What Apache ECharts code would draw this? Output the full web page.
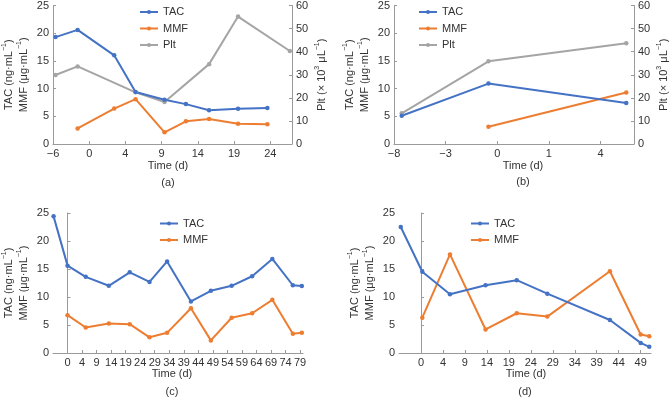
<!DOCTYPE html>
<html>
<head>
<meta charset="utf-8">
<script src="https://cdn.jsdelivr.net/npm/echarts@6/dist/echarts.min.js"></script>
<style>
  html, body { margin: 0; padding: 0; background: #fff; }
  #chart { width: 670px; height: 397px; }
</style>
</head>
<body>
<div id="chart"></div>
<script>
// tick labels (evenly spaced on the axis, one per unit)
const aTicks = ['−6', '0', '4', '9', '14', '19', '24']
const bTicks = ['−8', '−3', '0', '1', '4']
const cTicks = ['0', '4', '9', '14', '19', '24', '29', '34', '39', '44', '49', '54', '59', '64', '69', '74', '79']
const dTicks = ['0', '4', '9', '14', '19', '24', '29', '34', '39', '44', '49']

// panel (a)
const aTacX = [0.07, 0.68, 1.69, 2.28, 3.08, 3.67, 4.31, 5.11, 5.92]
const aTac = [19.3, 20.6, 16.0, 9.4, 8.0, 7.2, 6.1, 6.35, 6.5]
const aMmfX = [0.68, 1.69, 2.28, 3.08, 3.67, 4.31, 5.11, 5.92]
const aMmf = [2.8, 6.4, 8.1, 2.1, 4.1, 4.5, 3.65, 3.55]
const aPltX = [0.07, 0.68, 2.28, 3.08, 4.31, 5.11, 6.54]
const aPlt = [29.9, 33.6, 22.4, 18.2, 34.6, 55.2, 40.3]

// panel (b)
const bTacX = [0.15, 1.83, 4.5]
const bTac = [5.1, 10.9, 7.4]
const bMmfX = [1.83, 4.5]
const bMmf = [3.1, 9.3]
const bPltX = [0.15, 1.83, 4.5]
const bPlt = [13.3, 35.8, 43.6]

// panel (c)
const cTacX = [-0.96, 0, 1.25, 2.84, 4.28, 5.64, 6.85, 8.49, 9.86, 11.29, 12.7, 14.09, 15.5, 16.12]
const cTac = [24.4, 15.6, 13.6, 12.0, 14.4, 12.7, 16.35, 9.2, 11.1, 12.0, 13.7, 16.8, 12.1, 11.95]
const cMmfX = [0, 1.25, 2.84, 4.28, 5.64, 6.85, 8.49, 9.86, 11.29, 12.7, 14.09, 15.5, 16.12]
const cMmf = [6.75, 4.56, 5.27, 5.15, 2.8, 3.6, 8.0, 2.25, 6.3, 7.1, 9.5, 3.45, 3.6]

// panel (d)
const dTacX = [-0.92, 0.06, 1.32, 2.94, 4.36, 5.75, 8.6, 10.0, 10.39]
const dTac = [22.5, 14.5, 10.5, 12.1, 13.0, 10.6, 5.9, 1.8, 1.1]
const dMmfX = [0.06, 1.32, 2.94, 4.36, 5.75, 8.6, 10.0, 10.39]
const dMmf = [6.3, 17.6, 4.2, 7.1, 6.5, 14.6, 3.3, 3.0]

const FONT = 'Liberation Sans, Arial, sans-serif'
const AXIS_COLOR = '#9a9a9a'
const TEXT_COLOR = '#333'
const C_TAC = '#4472C4'
const C_MMF = '#ED7D31'
const C_PLT = '#A5A5A5'

const pairs = (xs, ys) => xs.map((x, i) => [x, ys[i]])

function xAxisFor(gridIndex, labels, min, max) {
  const vals = labels.map((l, i) => i)
  return {
    type: 'value',
    gridIndex: gridIndex,
    min: min,
    max: max,
    splitLine: { show: false },
    axisLine: { show: true, lineStyle: { color: AXIS_COLOR, width: 1 } },
    axisTick: { show: true, inside: true, length: 3, customValues: vals, lineStyle: { color: AXIS_COLOR } },
    axisLabel: {
      customValues: vals,
      margin: 4,
      color: TEXT_COLOR,
      fontFamily: FONT,
      fontSize: 11,
      formatter: (v) => labels[Math.round(v)]
    }
  }
}

const supRich = {
  n: { fontSize: 11, fontFamily: FONT, color: TEXT_COLOR, lineHeight: 15 },
  s: { fontSize: 7, fontFamily: FONT, color: TEXT_COLOR, lineHeight: 15, verticalAlign: 'top' }
}

function yAxisFor(gridIndex, max, interval, position, name, gap) {
  return {
    type: 'value',
    gridIndex: gridIndex,
    position: position,
    min: 0,
    max: max,
    interval: interval,
    splitLine: { show: false },
    name: name,
    nameLocation: 'middle',
    nameRotate: 90,
    nameGap: gap,
    nameTextStyle: { rich: supRich },
    axisLine: { show: true, lineStyle: { color: AXIS_COLOR, width: 1 } },
    axisTick: { show: true, inside: true, length: 3, lineStyle: { color: AXIS_COLOR } },
    axisLabel: { margin: 4, color: TEXT_COLOR, fontFamily: FONT, fontSize: 11 }
  }
}

const leftName = '{n|TAC (ng·mL}{s|−1}{n|)}\n{n|MMF (μg·mL}{s|−1}{n|)}'
const rightName = '{n|Plt (× 10}{s|3}{n| μL}{s|−1}{n|)}'

function lineSeries(name, color, xi, yi, data) {
  return {
    type: 'line',
    name: name,
    xAxisIndex: xi,
    yAxisIndex: yi,
    data: data,
    symbol: 'circle',
    symbolSize: 4.5,
    color: color,
    lineStyle: { width: 2, color: color },
    itemStyle: { color: color },
    animation: false
  }
}

function legendAt(left, top, names) {
  return {
    orient: 'vertical',
    left: left,
    top: top,
    padding: 0,
    itemWidth: 18,
    itemHeight: 5,
    itemGap: 3.5,
    data: names,
    textStyle: { fontSize: 11, fontFamily: FONT, color: TEXT_COLOR, lineHeight: 13 }
  }
}

function label(x, y, text) {
  return {
    type: 'text',
    x: x,
    y: y,
    style: { text: text, fontSize: 11, fontFamily: FONT, fill: TEXT_COLOR, align: 'center', verticalAlign: 'middle' }
  }
}

const option = {
  backgroundColor: '#fff',
  animation: false,
  grid: [
    { left: 50, top: 4, width: 242, height: 140 },
    { left: 394, top: 4, width: 244, height: 140 },
    { left: 51, top: 213, width: 252, height: 140 },
    { left: 399, top: 213, width: 252, height: 140 }
  ],
  xAxis: [
    xAxisFor(0, aTicks, 0, 6.6),
    xAxisFor(1, bTicks, 0, 4.65),
    xAxisFor(2, cTicks, -1, 16.2),
    xAxisFor(3, dTicks, -1, 10.47)
  ],
  yAxis: [
    yAxisFor(0, 25, 5, 'left', leftName, 22),
    yAxisFor(0, 60, 10, 'right', rightName, 22),
    yAxisFor(1, 25, 5, 'left', leftName, 22),
    yAxisFor(1, 60, 10, 'right', rightName, 22),
    yAxisFor(2, 25, 5, 'left', leftName, 22),
    yAxisFor(3, 25, 5, 'left', leftName, 22)
  ],
  legend: [
    legendAt(139, 5.5, ['TAC', 'MMF', 'Plt']),
    legendAt(418, 5.5, ['TAC', 'MMF', 'Plt']),
    legendAt(159, 217, ['TAC', 'MMF']),
    legendAt(470, 217, ['TAC', 'MMF'])
  ],
  series: [
    lineSeries('Plt', C_PLT, 0, 1, pairs(aPltX, aPlt)),
    lineSeries('MMF', C_MMF, 0, 0, pairs(aMmfX, aMmf)),
    lineSeries('TAC', C_TAC, 0, 0, pairs(aTacX, aTac)),
    lineSeries('Plt', C_PLT, 1, 3, pairs(bPltX, bPlt)),
    lineSeries('MMF', C_MMF, 1, 2, pairs(bMmfX, bMmf)),
    lineSeries('TAC', C_TAC, 1, 2, pairs(bTacX, bTac)),
    lineSeries('MMF', C_MMF, 2, 4, pairs(cMmfX, cMmf)),
    lineSeries('TAC', C_TAC, 2, 4, pairs(cTacX, cTac)),
    lineSeries('MMF', C_MMF, 3, 5, pairs(dMmfX, dMmf)),
    lineSeries('TAC', C_TAC, 3, 5, pairs(dTacX, dTac))
  ],
  graphic: [
    label(168, 166, 'Time (d)'),
    label(168, 183, '(a)'),
    label(523, 166, 'Time (d)'),
    label(523, 182, '(b)'),
    label(172, 374, 'Time (d)'),
    label(172, 392, '(c)'),
    label(526, 374, 'Time (d)'),
    label(525, 392, '(d)')
  ]
}

const chart = echarts.init(document.getElementById('chart'))
chart.setOption(option)
</script>
</body>
</html>
